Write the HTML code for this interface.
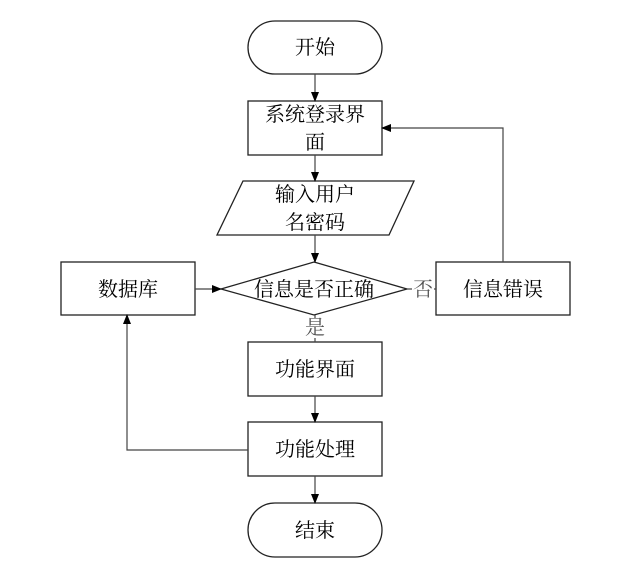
<!DOCTYPE html>
<html><head><meta charset="utf-8"><style>
body{margin:0;background:#fff;}
svg text{font-family:"Liberation Serif","Noto Serif CJK SC","Noto Sans CJK SC",serif;font-size:20px;fill:#000;text-anchor:middle;}
</style></head><body>
<svg width="637" height="569" viewBox="0 0 637 569" xmlns="http://www.w3.org/2000/svg">
<defs><marker id="a" markerWidth="10" markerHeight="10" refX="9" refY="5" orient="auto" markerUnits="userSpaceOnUse"><path d="M0,1 L10,5 L0,9 Z" fill="#000"/></marker></defs>
<g fill="none" stroke="#222" stroke-width="1.3">
<rect x="248" y="21" width="134" height="53" rx="27"/>
<rect x="248" y="101" width="134" height="54"/>
<polygon points="243,181 414,181 389,235 217,235"/>
<polygon points="314,262 407,289 314,315 221,289"/>
<rect x="61" y="262" width="134" height="53"/>
<rect x="436" y="262" width="134" height="53"/>
<rect x="248" y="342" width="134" height="54"/>
<rect x="248" y="422" width="134" height="54"/>
<rect x="248" y="503" width="134" height="54" rx="27"/>
</g>
<g fill="none" stroke="#444" stroke-width="1.2">
<line x1="315" y1="74" x2="315" y2="101" marker-end="url(#a)"/>
<line x1="315" y1="155" x2="315" y2="181" marker-end="url(#a)"/>
<line x1="315" y1="235" x2="315" y2="262" marker-end="url(#a)"/>
<line x1="195" y1="289" x2="221" y2="289" marker-end="url(#a)"/>
<line x1="407" y1="289" x2="436" y2="289"/>
<polyline points="503,262 503,128 382,128" marker-end="url(#a)"/>
<line x1="315" y1="315" x2="315" y2="342"/>
<line x1="315" y1="396" x2="315" y2="422" marker-end="url(#a)"/>
<line x1="315" y1="476" x2="315" y2="503" marker-end="url(#a)"/>
<polyline points="248,450 127,450 127,315" marker-end="url(#a)"/>
</g>
<rect x="412" y="279" width="22" height="20" fill="#fff"/>
<rect x="304" y="318" width="22" height="20" fill="#fff"/>
<text x="315" y="54">开始</text>
<text x="315" y="121">系统登录界</text>
<text x="315" y="149">面</text>
<text x="315" y="201">输入用户</text>
<text x="315" y="229">名密码</text>
<text x="314" y="296">信息是否正确</text>
<text x="128" y="296">数据库</text>
<text x="503" y="296">信息错误</text>
<text x="423" y="296" style="fill:#555">否</text>
<text x="315" y="334" style="fill:#555">是</text>
<text x="315" y="376">功能界面</text>
<text x="315" y="456">功能处理</text>
<text x="315" y="537">结束</text>
</svg>
</body></html>
